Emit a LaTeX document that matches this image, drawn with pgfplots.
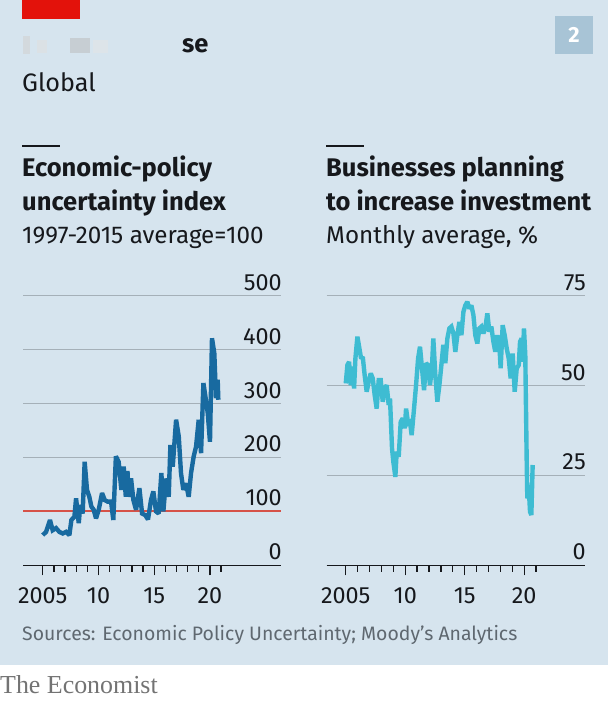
\documentclass[border=0pt]{standalone}
\usepackage{pgfplots}
\pgfplotsset{compat=1.18}
\usepackage{fontspec}
\setmainfont{Fira Sans}
\newfontfamily\serifecon{Liberation Serif}
\definecolor{bg}{RGB}{214,228,238}
\definecolor{gridc}{RGB}{165,176,184}
\definecolor{lineL}{RGB}{24,106,160}
\definecolor{lineR}{RGB}{62,188,210}
\definecolor{redl}{RGB}{214,82,72}
\definecolor{txt}{RGB}{22,24,28}
\definecolor{srcc}{RGB}{95,104,112}
\definecolor{boxc}{RGB}{168,196,214}
\definecolor{econred}{RGB}{227,18,11}

\pgfplotstableread{
year val
2005.00 56
2005.30 62
2005.65 84
2005.89 65
2006.19 69
2006.49 62
2006.79 59
2007.09 62
2007.39 56
2007.57 84
2007.84 90
2007.99 124
2008.23 78
2008.37 112
2008.58 96
2008.76 192
2008.97 140
2009.18 127
2009.36 109
2009.57 103
2009.78 87
2010.02 103
2010.32 134
2010.56 121
2010.83 118
2011.13 118
2011.33 84
2011.56 202
2011.81 192
2012.05 140
2012.26 183
2012.45 127
2012.60 175
2012.71 127
2012.92 161
2013.13 121
2013.37 103
2013.67 143
2013.91 96
2014.20 93
2014.44 85
2014.71 121
2014.92 137
2015.16 100
2015.40 96
2015.64 171
2015.82 100
2016.06 161
2016.30 127
2016.45 223
2016.66 183
2016.96 270
2017.20 239
2017.40 171
2017.61 140
2017.85 152
2018.09 127
2018.30 171
2018.54 202
2018.75 220
2018.99 270
2019.20 208
2019.41 338
2019.59 313
2019.80 282
2020.00 229
2020.18 421
2020.39 393
2020.54 310
2020.69 344
2020.75 307
}\epu

\pgfplotstableread{
year val
2005.00 50.6
2005.14 55.7
2005.28 56.6
2005.42 50.1
2005.56 55.3
2005.70 49.2
2005.81 57.5
2005.98 63.6
2006.15 60.3
2006.29 57.5
2006.43 58.0
2006.59 52.9
2006.76 48.3
2006.93 51.1
2007.10 53.4
2007.27 52.0
2007.43 47.4
2007.60 43.6
2007.77 51.5
2007.94 51.5
2008.11 45.5
2008.27 49.2
2008.44 50.1
2008.61 44.6
2008.72 46.4
2008.89 32.5
2009.00 28.8
2009.17 24.6
2009.28 31.6
2009.45 30.2
2009.62 39.9
2009.79 40.9
2009.96 38.1
2010.07 43.6
2010.24 39.5
2010.40 39.9
2010.54 36.2
2010.74 43.6
2010.91 50.1
2011.08 57.5
2011.24 60.8
2011.41 54.8
2011.58 48.7
2011.75 56.2
2011.92 55.7
2012.08 50.1
2012.25 55.3
2012.36 63.1
2012.53 52.9
2012.70 45.5
2012.87 50.1
2013.04 55.7
2013.20 61.3
2013.37 56.2
2013.54 63.1
2013.71 65.9
2013.88 66.4
2014.05 64.5
2014.21 59.4
2014.38 64.0
2014.55 67.7
2014.72 64.0
2014.89 70.5
2015.05 72.3
2015.22 73.3
2015.39 71.4
2015.56 72.3
2015.73 69.6
2015.89 64.0
2016.06 61.7
2016.23 65.9
2016.40 66.4
2016.57 64.5
2016.73 65.9
2016.90 70.1
2017.07 65.0
2017.24 66.4
2017.41 62.2
2017.57 59.4
2017.74 64.0
2017.91 61.3
2018.02 54.8
2018.19 66.8
2018.36 64.0
2018.53 60.3
2018.70 57.5
2018.86 52.0
2019.03 58.9
2019.20 48.3
2019.37 54.8
2019.54 55.7
2019.65 62.2
2019.79 63.1
2019.87 56.6
2019.98 65.9
2020.09 58.5
2020.21 28.8
2020.26 18.6
2020.37 22.3
2020.49 14.9
2020.60 14.0
2020.71 27.9
}\inv

\begin{document}
\begin{tikzpicture}[x=1bp,y=1bp]
\path[use as bounding box] (0,0) rectangle (608,701);
\fill[bg] (0,36) rectangle (608,701);
\fill[white] (0,0) rectangle (608,36);
\fill[econred] (22,701) rectangle (80,682);
\fill[boxc] (555,701-16) rectangle (593,701-54);
\node[anchor=center, text=white, font=\fontsize{22}{22}\selectfont\bfseries] at (574,701-35) {2};
% blurred title
\fill[gray!35, opacity=0.6] (23,701-36) rectangle (30,701-54);
\fill[gray!25, opacity=0.6] (37,701-40) rectangle (47,701-53);
\fill[gray!55, opacity=0.5] (70,701-38) rectangle (90,701-53);
\fill[gray!20, opacity=0.5] (93,701-40) rectangle (108,701-53);
\node[anchor=base west, inner sep=0pt, text=txt, font=\fontsize{25.5}{25.5}\selectfont\bfseries] at (182,701-53) {se};
\node[anchor=base west, inner sep=0pt, text=txt, font=\fontsize{25.3}{25.3}\selectfont] at (22,701-92) {Global};
% panel titles
\draw[txt, line width=1.5bp] (22,701-146) -- (60,701-146);
\draw[txt, line width=1.5bp] (326,701-146) -- (364,701-146);
\node[anchor=base west, inner sep=0pt, text=txt, font=\fontsize{25.6}{25.6}\selectfont\bfseries] at (22,701-176.7) {Economic-policy};
\node[anchor=base west, inner sep=0pt, text=txt, font=\fontsize{25.6}{25.6}\selectfont\bfseries] at (22,701-211) {uncertainty index};
\node[anchor=base west, inner sep=0pt, text=txt, font=\fontsize{24.3}{24.3}\selectfont] at (22,701-244) {1997-2015 average=100};
\node[anchor=base west, inner sep=0pt, text=txt, font=\fontsize{25.6}{25.6}\selectfont\bfseries] at (326,701-176.7) {Businesses planning};
\node[anchor=base west, inner sep=0pt, text=txt, font=\fontsize{25.6}{25.6}\selectfont\bfseries] at (326,701-211) {to increase investment};
\node[anchor=base west, inner sep=0pt, text=txt, font=\fontsize{24.3}{24.3}\selectfont] at (326,701-244) {Monthly average, \%};
\node[anchor=base west, inner sep=0pt, text=srcc, font=\fontsize{19.5}{19.5}\selectfont] at (22,701-641) {Sources: Economic Policy Uncertainty; Moody's Analytics};
\node[anchor=base west, inner sep=0pt, text=black!55, font=\serifecon\fontsize{26}{26}\selectfont] at (0,701-694) {The Economist};

\pgfplotsset{econ/.style={
  scale only axis, anchor=south west,
  ymin=0, height=269.6bp,
  axis x line*=bottom, axis y line*=right,
  y axis line style={draw=none},
  x axis line style={txt, line width=1.3bp},
  ymajorgrids, grid style={gridc, line width=1bp},
  ytick style={draw=none},
  yticklabel style={anchor=south east, inner sep=0pt, xshift=-9bp, yshift=5bp, text=txt, font=\fontsize{23.5}{23.5}\selectfont},
  xtick={2005,2010,2015,2020}, xticklabels={2005,10,15,20},
  minor xtick={2006,2007,2008,2009,2011,2012,2013,2014,2016,2017,2018,2019,2021},
  tick align=outside, major tick length=10bp, minor tick length=6.5bp,
  xtick style={txt, line width=1.3bp},
  minor tick style={txt, line width=1.3bp},
  xticklabel style={anchor=north, inner sep=0pt, yshift=-12bp, text=txt, font=\fontsize{23.5}{23.5}\selectfont},
  clip=false,
}}

\begin{axis}[econ, at={(23bp,135.7bp)}, width=258bp, xmin=2003.23, xmax=2026.37, ymax=500,
  ytick={0,100,200,300,400,500}, yticklabels={0,100,200,300,400,500}]
\addplot[redl, line width=2bp] coordinates {(2003.23,100) (2026.37,100)};
\addplot[lineL, line width=4.4bp, line join=miter, miter limit=2] table[x=year,y=val] {\epu};
\end{axis}

\begin{axis}[econ, at={(326.7bp,135.7bp)}, width=258.3bp, xmin=2003.40, xmax=2025.11, ymax=75,
  ytick={0,25,50,75}, yticklabels={0,25,50,75}]
\addplot[lineR, line width=4.4bp, line join=miter, miter limit=2] table[x=year,y=val] {\inv};
\end{axis}
\end{tikzpicture}
\end{document}
